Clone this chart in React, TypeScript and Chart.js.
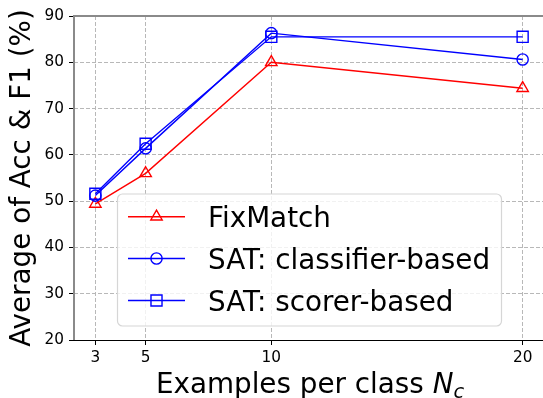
import React, { useEffect, useRef } from "react";
import { Chart, registerables } from "chart.js";

Chart.register(...registerables);

// ---- data ----
const xValues = [3, 5, 10, 20];
const xTickValues = [3, 5, 10, 20];
const yTickValues = [20, 30, 40, 50, 60, 70, 80, 90];
const fixMatch = [49.4, 56.0, 80.0, 74.4];
const satClassifier = [51.2, 61.4, 86.3, 80.6];
const satScorer = [51.6, 62.4, 85.5, 85.5];
const seriesLabels = ["FixMatch", "SAT: classifier-based", "SAT: scorer-based"];
const xLabelMain = "Examples per class ";
const xLabelVar = "N";
const xLabelSub = "c";
const yLabel = "Average of Acc & F1 (%)";

const FONT = "'DejaVu Sans', 'Liberation Sans', sans-serif";
const BIG = 27.8;
const TICK = 15.3;

function drawMarker(ctx: CanvasRenderingContext2D, style: string, x: number, y: number, r: number) {
  ctx.beginPath();
  if (style === "triangle") {
    let a = 0;
    ctx.moveTo(x + Math.sin(a) * r, y - Math.cos(a) * r);
    a += (2 * Math.PI) / 3;
    ctx.lineTo(x + Math.sin(a) * r, y - Math.cos(a) * r);
    a += (2 * Math.PI) / 3;
    ctx.lineTo(x + Math.sin(a) * r, y - Math.cos(a) * r);
    ctx.closePath();
  } else if (style === "rect") {
    const h = (r * Math.SQRT2) / 2;
    ctx.rect(x - h, y - h, 2 * h, 2 * h);
  } else {
    ctx.arc(x, y, r, 0, Math.PI * 2);
  }
  ctx.stroke();
}

const decorPlugin = {
  id: "decor",
  afterDatasetsDraw(chart: any) {
    const ctx: CanvasRenderingContext2D = chart.ctx;
    const ca = chart.chartArea;
    ctx.save();
    // spines
    ctx.setLineDash([]);
    ctx.strokeStyle = "#8a8a8a";
    ctx.lineWidth = 2;
    ctx.beginPath();
    ctx.moveTo(ca.left, ca.bottom);
    ctx.lineTo(ca.left, ca.top - 1);
    ctx.moveTo(ca.left - 1, ca.top);
    ctx.lineTo(ca.right + 1, ca.top);
    ctx.moveTo(ca.right, ca.top);
    ctx.lineTo(ca.right, ca.bottom);
    ctx.stroke();
    ctx.strokeStyle = "#000";
    ctx.lineWidth = 1;
    ctx.beginPath();
    ctx.moveTo(ca.left - 1, Math.round(ca.bottom) + 0.5);
    ctx.lineTo(ca.right, Math.round(ca.bottom) + 0.5);
    ctx.stroke();

    // legend box
    const bx = 117.5, by = 194, bw = 384, bh = 132, rad = 5;
    ctx.beginPath();
    ctx.moveTo(bx + rad, by);
    ctx.arcTo(bx + bw, by, bx + bw, by + bh, rad);
    ctx.arcTo(bx + bw, by + bh, bx, by + bh, rad);
    ctx.arcTo(bx, by + bh, bx, by, rad);
    ctx.arcTo(bx, by, bx + bw, by, rad);
    ctx.closePath();
    ctx.fillStyle = "rgba(255,255,255,0.8)";
    ctx.fill();
    ctx.strokeStyle = "#d6d6d6";
    ctx.lineWidth = 1.2;
    ctx.stroke();

    const rows = [216.7, 258.5, 300.5];
    chart.data.datasets.forEach((ds: any, i: number) => {
      const y = rows[i];
      ctx.strokeStyle = ds.borderColor;
      ctx.lineWidth = ds.borderWidth;
      ctx.beginPath();
      ctx.moveTo(128, y);
      ctx.lineTo(185, y);
      ctx.stroke();
      ctx.lineWidth = ds.pointBorderWidth;
      drawMarker(ctx, ds.pointStyle, 156.5, y, ds.pointRadius);
      ctx.fillStyle = "#000";
      ctx.font = `${BIG}px ${FONT}`;
      ctx.textAlign = "left";
      ctx.textBaseline = "alphabetic";
      ctx.fillText(ds.label, 208, y + BIG * 0.365);
    });

    // x-axis title with italic N and subscript c
    const fMain = `${BIG}px ${FONT}`;
    const fIt = `oblique ${BIG}px ${FONT}`;
    const fSub = `oblique ${BIG * 0.7}px ${FONT}`;
    ctx.font = fMain;
    const w1 = ctx.measureText(xLabelMain).width;
    ctx.font = fIt;
    const w2 = ctx.measureText(xLabelVar).width;
    ctx.font = fSub;
    const w3 = ctx.measureText(xLabelSub).width;
    const total = w1 + w2 + w3;
    const cx = (ca.left + ca.right) / 2 + 1;
    let x = cx - total / 2;
    const base = 393.3;
    ctx.fillStyle = "#000";
    ctx.textAlign = "left";
    ctx.textBaseline = "alphabetic";
    ctx.font = fMain;
    ctx.fillText(xLabelMain, x, base);
    x += w1;
    ctx.font = fIt;
    ctx.fillText(xLabelVar, x, base);
    x += w2;
    ctx.font = fSub;
    ctx.fillText(xLabelSub, x, base + 4.5);
    ctx.restore();
  },
};

export default function App() {
  const ref = useRef<HTMLCanvasElement | null>(null);
  useEffect(() => {
    if (!ref.current) return;
    const mk = (arr: number[]) => xValues.map((x, i) => ({ x, y: arr[i] }));
    const common = {
      borderWidth: 1.4,
      pointBorderWidth: 1.4,
      pointBackgroundColor: "rgba(0,0,0,0)",
      fill: false,
      tension: 0,
    };
    const chart = new Chart(ref.current, {
      type: "line",
      data: {
        datasets: [
          {
            ...common,
            label: seriesLabels[0],
            data: mk(fixMatch),
            borderColor: "#ff0000",
            pointBorderColor: "#ff0000",
            pointStyle: "triangle",
            pointRadius: 6.6,
            order: 3,
          },
          {
            ...common,
            label: seriesLabels[1],
            data: mk(satClassifier),
            borderColor: "#0000ff",
            pointBorderColor: "#0000ff",
            pointStyle: "circle",
            pointRadius: 5.6,
            order: 2,
          },
          {
            ...common,
            label: seriesLabels[2],
            data: mk(satScorer),
            borderColor: "#0000ff",
            pointBorderColor: "#0000ff",
            pointStyle: "rect",
            pointRadius: 7.8,
            order: 1,
          },
        ] as any,
      },
      options: {
        animation: false,
        responsive: false,
        devicePixelRatio: 1,
        layout: { padding: { left: 0, top: 16, right: 16, bottom: 0 } },
        plugins: {
          legend: { display: false },
          tooltip: { enabled: false },
          title: { display: false },
        },
        scales: {
          x: {
            type: "linear",
            min: 2.15,
            max: 20.85,
            afterFit: (s: any) => {
              s.height = 58;
            },
            afterBuildTicks: (s: any) => {
              s.ticks = xTickValues.map((v) => ({ value: v }));
            },
            ticks: {
              autoSkip: false,
              maxRotation: 0,
              padding: 4,
              color: "#000",
              font: { family: FONT, size: TICK },
              callback: (v: any) => String(v),
            },
            grid: {
              color: "#b8b8b8",
              lineWidth: 1,
              drawTicks: true,
              tickLength: 5,
              tickColor: "#000",
              tickWidth: 1,
            },
            border: { display: false, dash: [4, 2] },
          },
          y: {
            type: "linear",
            min: 20,
            max: 90,
            afterFit: (s: any) => {
              s.width = 74;
            },
            afterBuildTicks: (s: any) => {
              s.ticks = yTickValues.map((v) => ({ value: v }));
            },
            ticks: {
              padding: 5,
              color: "#000",
              font: { family: FONT, size: TICK },
              callback: (v: any) => String(v),
            },
            grid: {
              color: "#b8b8b8",
              lineWidth: 1,
              drawTicks: true,
              tickLength: 5,
              tickColor: "#000",
              tickWidth: 1,
            },
            border: { display: false, dash: [4, 2] },
            title: {
              display: true,
              text: yLabel,
              color: "#000",
              font: { family: FONT, size: BIG, lineHeight: 1 },
              padding: { top: 9, bottom: 0 },
            },
          },
        },
      } as any,
      plugins: [decorPlugin],
    });
    return () => chart.destroy();
  }, []);
  return (
    <div
      style={{
        position: "absolute",
        left: 0,
        top: 0,
        width: 543,
        height: 398,
        overflow: "hidden",
        background: "#fff",
      }}
    >
      <canvas ref={ref} width={560} height={398} style={{ display: "block" }} />
    </div>
  );
}
